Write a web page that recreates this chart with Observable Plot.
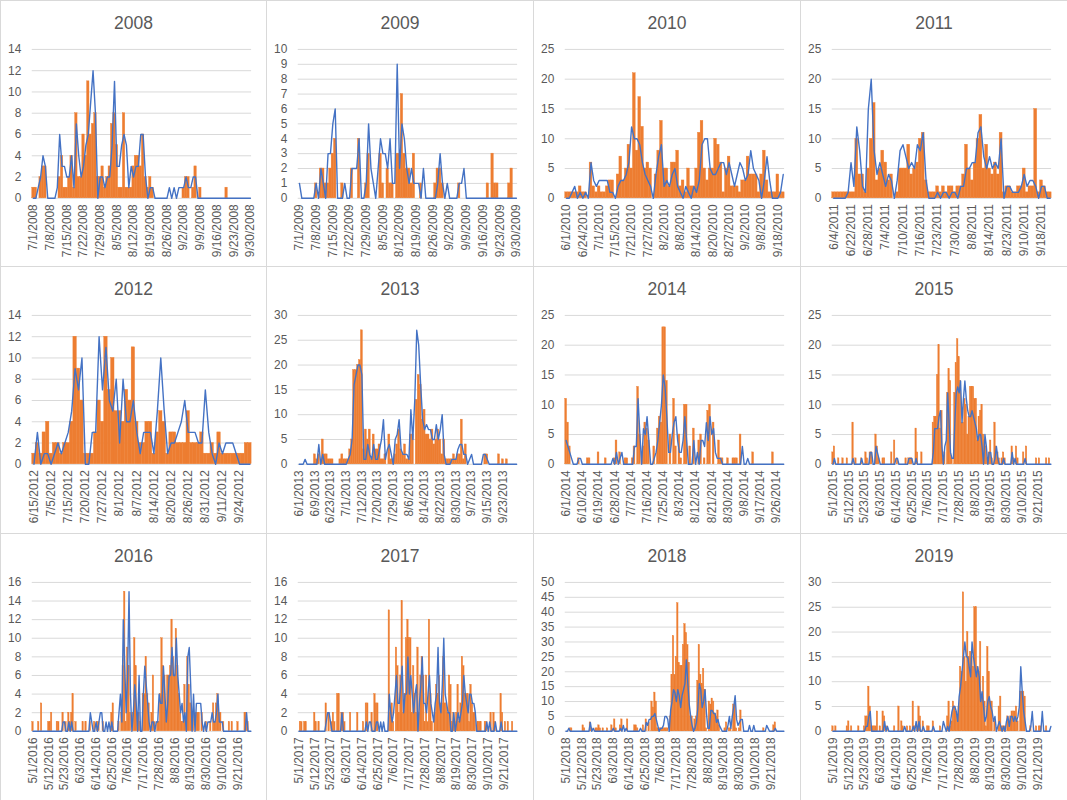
<!DOCTYPE html>
<html><head><meta charset="utf-8">
<script src="https://cdn.jsdelivr.net/npm/d3@7"></script>
<script src="https://cdn.jsdelivr.net/npm/@observablehq/plot@0.6"></script>
<style>
html,body{margin:0;padding:0;background:#fff;}
#wrap{position:relative;width:1067px;height:800px;overflow:hidden;background:#fff;}
.panel{position:absolute;box-sizing:border-box;border:1px solid #d9d9d9;background:#fff;}
.title{position:absolute;left:0;right:0;top:11px;text-align:center;font:17.5px "Liberation Sans",Arial,sans-serif;color:#595959;line-height:22px;}
.panel svg{position:absolute;left:-1px;top:39px;}
</style></head><body><div id="wrap"></div>
<script>
// ---------- tick labels ----------
const labels2008 = ["7/1/2008","7/8/2008","7/15/2008","7/22/2008","7/29/2008","8/5/2008","8/12/2008","8/19/2008","8/26/2008","9/2/2008","9/9/2008","9/16/2008","9/23/2008","9/30/2008"];
const labels2009 = ["7/1/2009","7/8/2009","7/15/2009","7/22/2009","7/29/2009","8/5/2009","8/12/2009","8/19/2009","8/26/2009","9/2/2009","9/9/2009","9/16/2009","9/23/2009","9/30/2009"];
const labels2010 = ["6/1/2010","6/24/2010","7/1/2010","7/15/2010","7/21/2010","7/27/2010","8/2/2010","8/8/2010","8/14/2010","8/20/2010","8/27/2010","9/2/2010","9/8/2010","9/18/2010"];
const labels2011 = ["6/4/2011","6/22/2011","6/28/2011","7/4/2011","7/10/2011","7/16/2011","7/23/2011","7/30/2011","8/8/2011","8/14/2011","8/23/2011","9/10/2011","9/18/2011"];
const labels2012 = ["6/15/2012","7/5/2012","7/15/2012","7/20/2012","7/27/2012","8/1/2012","8/7/2012","8/14/2012","8/20/2012","8/26/2012","8/31/2012","9/11/2012","9/24/2012"];
const labels2013 = ["6/1/2013","6/9/2013","6/23/2013","7/1/2013","7/12/2013","7/20/2013","7/29/2013","8/6/2013","8/14/2013","8/22/2013","8/30/2013","9/7/2013","9/15/2013","9/23/2013"];
const labels2014 = ["6/1/2014","6/10/2014","6/19/2014","6/28/2014","7/7/2014","7/16/2014","7/25/2014","8/3/2014","8/12/2014","8/21/2014","8/30/2014","9/8/2014","9/17/2014","9/26/2014"];
const labels2015 = ["5/1/2015","5/12/2015","5/23/2015","6/3/2015","6/14/2015","6/25/2015","7/6/2015","7/17/2015","7/28/2015","8/8/2015","8/19/2015","8/30/2015","9/10/2015","9/21/2015"];
const labels2016 = ["5/1/2016","5/12/2016","5/23/2016","6/3/2016","6/14/2016","6/25/2016","7/6/2016","7/17/2016","7/28/2016","8/8/2016","8/19/2016","8/30/2016","9/10/2016","9/21/2016"];
const labels2017 = ["5/1/2017","5/12/2017","5/23/2017","6/3/2017","6/14/2017","6/25/2017","7/6/2017","7/17/2017","7/28/2017","8/8/2017","8/19/2017","8/30/2017","9/10/2017","9/21/2017"];
const labels2018 = ["5/1/2018","5/12/2018","5/23/2018","6/3/2018","6/14/2018","6/25/2018","7/6/2018","7/17/2018","7/28/2018","8/8/2018","8/19/2018","8/30/2018","9/10/2018","9/21/2018"];
const labels2019 = ["5/1/2019","5/12/2019","5/23/2019","6/3/2019","6/14/2019","6/25/2019","7/6/2019","7/17/2019","7/28/2019","8/8/2019","8/19/2019","8/30/2019","9/10/2019","9/21/2019"];

// ---------- series values (bars = orange, line = blue) ----------
const bars2008 = [1,1,0,2,3,3,0,0,0,0, 0,2,4,1,1,2,4,1,8,2, 2,6,4,11,6,7,8,2,2,3, 1,2,3,7,8,5,1,1,8,1, 1,1,3,4,4,3,6,2,1,2, 1,0,0,0,0,0,0,0,0,0, 0,0,0,1,2,2,0,1,3,0, 1,0,0,0,0,0,0,0,0,0, 0,1,0,0,0,0,0,0,0,0, 0,0];
const line2008 = [0,0,1,2,4,3,0,0,0,0, 1,6,3,3,2,2,4,1,7,4, 2,3,5,6,9,12,8,0,2,2, 1,2,2,5,11,3,3,5,6,5, 1,3,2,3,3,6,6,2,0,1, 1,0,0,0,0,0,0,1,0,1, 0,1,1,1,2,1,1,2,2,0, 0,0,0,0,0,0,0,0,0,0, 0,0,0,0,0,0,0,0,0,0, 0,0];

const bars2009 = [0,0,0,0,0,0,0,1,0,2, 2,1,1,2,3,4,0,0,1,0, 0,0,2,0,0,4,0,0,1,3, 0,0,0,0,3,1,0,2,1,1, 0,3,3,7,3,2,2,1,3,0, 0,1,0,0,0,0,0,1,2,2, 1,0,0,0,0,0,0,1,0,0, 0,0,0,0,0,0,0,0,0,1, 0,3,1,1,0,0,0,0,1,2, 0,0];
const line2009 = [1,0,0,0,0,0,0,1,0,2, 1,0,3,3,5,6,0,0,0,1, 0,0,2,2,2,4,0,0,1,5, 2,1,0,2,4,3,3,2,4,1, 1,9,2,5,4,2,1,2,1,1, 1,0,2,0,0,0,0,0,1,3, 1,0,1,0,0,0,0,1,1,2, 0,0,0,0,0,0,0,0,0,0, 0,0,0,0,0,0,0,0,0,0, 0,0];

const bars2010 = [1,1,1,1,1,2,1,1,0,6, 2,1,2,1,1,2,3,3,0,4, 7,3,5,9,5,21,8,17,12,5, 6,5,0,4,8,13,5,5,2,6, 6,8,2,3,1,5,2,2,5,11, 13,5,3,5,5,10,9,6,1,5, 7,2,2,2,1,3,3,7,4,4, 4,1,4,8,3,1,1,1,4,1, 1];
const line2010 = [0,0,1,2,0,1,0,1,0,6, 3,2,3,3,3,3,1,1,0,2, 3,3,4,6,12,10,10,9,6,4, 3,2,0,4,7,9,2,3,2,4, 5,2,1,0,2,1,0,2,1,3, 9,10,10,5,4,4,5,6,6,4, 6,4,2,4,6,5,3,4,8,5, 4,3,0,3,7,3,0,0,0,1, 4];

const bars2011 = [1,1,1,1,1,1,1,1,10,4, 4,1,5,10,16,3,5,8,6,3, 4,0,1,5,5,5,9,4,5,6, 10,11,3,1,1,1,2,1,2,1, 2,2,1,2,2,4,9,5,3,6, 10,14,5,9,5,4,6,4,11,1, 2,2,1,1,2,2,5,1,2,2, 15,1,3,2,1,1];
const line2011 = [0,0,0,0,0,1,6,2,12,8, 2,1,15,20,8,4,6,4,2,4, 3,0,3,8,9,7,5,6,5,9, 8,11,3,0,0,0,1,0,1,1, 0,1,1,0,2,2,5,5,6,6, 11,12,7,5,7,5,6,5,10,0, 2,2,1,1,1,2,4,2,3,3, 2,0,2,2,0,0];

const bars2012 = [1,2,1,3,4,1,2,2,1,2, 2,4,12,9,6,1,1,1,3,6, 4,12,7,10,5,5,4,7,6,11, 4,2,2,4,4,1,3,5,4,1, 3,3,2,2,2,5,2,2,2,3, 1,1,2,1,3,1,1,1,1,1, 1,1,2,2];
const line2012 = [0,3,0,1,1,0,1,2,1,2, 3,5,9,7,10,0,0,3,3,12, 7,11,6,5,8,2,8,4,4,6, 3,1,3,3,3,1,5,10,5,1, 2,2,3,4,6,3,3,3,2,2, 7,3,1,0,2,1,2,2,2,1, 0,0,0,0];

const bars2013 = [0,0,0,0,0,0,0,0,2,1, 2,0,5,2,2,1,1,1,0,0, 0,1,2,1,1,1,3,5,19,19, 20,21,27,3,7,5,7,1,6,3, 3,4,1,1,2,0,6,1,1,2, 4,7,3,2,4,1,1,6,6,0, 13,18,16,9,11,6,6,5,7,4, 5,7,5,2,5,1,1,1,1,2, 1,2,2,9,1,4,0,0,0,0, 0,0,0,0,0,2,2,0,0,0, 0,0,2,0,1,0,1,0,0,0, 0,0];
const line2013 = [0,0,0,1,0,0,0,0,0,0, 4,0,2,0,0,0,0,0,0,0, 0,0,0,0,0,1,2,5,16,18, 20,20,18,1,1,4,2,1,4,1, 1,3,5,9,1,3,4,2,0,5, 6,9,3,2,2,2,1,11,5,13, 27,24,16,9,7,8,7,7,5,5, 8,5,7,10,2,0,0,0,1,1, 1,3,4,4,2,2,0,1,2,0, 0,0,0,0,2,2,1,0,0,0, 0,0,0,0,0,0,0,0,0,0, 0,0];

const bars2014 = [11,7,3,0,0,0,0,1,0,0, 0,0,1,1,0,0,0,0,2,0, 0,0,1,0,0,0,0,1,4,0, 2,0,0,1,1,0,0,1,3,0, 13,5,0,3,7,6,4,0,0,3, 0,6,8,7,23,23,14,0,5,0, 11,3,0,5,1,0,10,10,0,3, 0,6,0,0,4,5,0,1,0,9, 10,0,7,0,0,4,1,1,0,0, 1,0,0,1,1,1,0,5,0,0, 0,0,0,0,2,0,0,0,0,0, 0,0,0,0,0,2,0,0,0,0, 0,0];
const line2014 = [4,3,2,1,0,0,0,1,1,0, 0,0,0,0,0,0,0,0,0,0, 0,0,0,0,0,0,1,0,2,0, 1,2,0,0,0,0,0,0,3,3, 11,5,0,6,5,8,4,0,0,1, 2,4,7,10,15,13,8,2,2,5, 7,8,4,2,2,4,8,4,0,0, 0,4,0,2,0,4,4,3,7,4, 8,5,6,2,1,1,1,0,0,0, 0,0,0,0,0,0,0,0,3,0, 0,1,0,0,0,0,0,0,0,0, 0,0,0,0,0,0,0,0,0,0, 0,0];

const bars2015 = [2,3,0,0,1,0,0,1,0,0, 1,0,0,0,7,0,1,0,0,0, 1,0,0,2,1,0,2,2,0,0, 5,3,1,0,0,1,1,0,0,0, 0,2,0,4,0,1,0,0,0,0, 0,1,0,1,1,1,0,0,6,2, 0,0,2,0,0,0,0,0,0,0, 7,8,8,15,20,6,9,1,2,0, 12,16,14,1,0,12,17,21,18,14, 7,7,11,10,5,8,13,13,13,11, 11,4,8,9,10,5,4,3,1,2, 4,1,0,7,3,2,1,0,1,2, 1,0,0,0,0,3,1,0,3,1, 0,0,0,2,0,3,0,0,0,0, 0,0,1,0,1,0,0,0,0,1, 0,1,0];
const line2015 = [0,1,0,0,0,0,0,0,0,0, 0,0,0,0,1,0,0,0,0,0, 1,0,0,0,0,0,2,2,0,0, 3,2,1,0,0,0,0,0,0,0, 0,0,0,0,1,1,0,0,0,0, 0,0,0,1,1,1,0,0,1,0, 0,0,0,0,0,0,0,0,0,0, 2,6,6,6,8,9,3,0,3,4, 12,7,2,1,1,7,12,13,12,14, 7,11,14,11,9,8,8,9,8,7, 6,4,5,5,3,0,5,3,0,2, 2,0,0,1,3,1,0,0,0,1, 0,0,0,0,0,2,0,1,0,0, 0,0,0,0,1,0,0,0,0,0, 0,0,0,0,0,0,0,0,0,0, 0,0,0];

const bars2016 = [1,0,0,0,1,0,3,0,0,0, 0,1,1,2,0,0,0,1,1,0, 0,2,0,1,0,2,1,2,4,0, 1,0,0,0,0,1,0,1,0,0, 1,0,0,1,0,1,1,0,0,1, 0,0,0,0,0,2,3,0,0,0, 1,0,2,7,15,1,9,7,2,0, 2,10,7,2,2,1,0,4,4,8, 4,3,0,2,6,1,0,1,1,4, 10,7,6,2,6,6,7,12,8,6, 11,7,4,2,1,1,5,1,8,5, 3,2,2,0,2,2,2,0,2,0, 0,1,0,0,1,0,3,1,3,4, 2,2,0,1,0,0,0,1,0,1, 0,0,0,1,0,0,0,0,2,2, 1,0,0];
const line2016 = [0,0,0,0,0,0,0,0,0,0, 0,0,0,0,0,0,0,0,0,0, 0,1,1,0,0,1,0,1,0,0, 0,0,0,0,0,0,0,0,0,0, 2,1,0,0,1,0,1,2,2,0, 0,1,0,1,0,1,0,0,0,0, 2,4,1,12,7,2,6,15,4,0, 2,5,3,0,6,0,0,4,7,5, 3,1,0,1,1,0,1,1,4,3, 3,7,4,1,3,6,6,9,6,6, 10,6,4,2,3,1,2,0,8,9, 5,0,4,0,3,3,3,3,1,0, 1,0,1,1,1,2,1,1,2,4, 1,1,1,0,0,0,0,0,0,0, 0,0,0,0,0,0,0,0,0,2, 0,0,0];

const bars2017 = [0,1,1,0,1,1,0,0,0,0, 0,2,1,0,1,0,0,0,0,3, 0,2,0,1,2,1,0,4,4,0, 2,2,1,0,0,0,2,0,0,0, 0,2,0,0,0,1,0,3,3,0, 0,2,0,4,3,3,0,0,0,0, 0,0,0,13,2,3,1,0,9,7, 2,6,14,2,4,10,12,10,10,2, 7,4,2,9,2,6,8,6,1,6, 1,12,4,1,0,2,5,4,6,3, 3,8,3,3,2,6,5,1,2,1, 2,5,1,3,8,7,4,4,4,1, 5,3,2,2,0,1,1,1,0,0, 1,1,0,0,2,0,2,1,0,0, 0,4,2,0,1,0,1,0,0,1, 0,0,0];
const line2017 = [0,0,0,0,0,0,0,0,0,0, 0,0,0,0,0,0,0,0,0,1, 2,2,1,0,0,0,0,0,0,0, 2,0,0,0,0,0,0,0,0,0, 0,0,0,0,0,0,0,1,0,1, 1,0,0,0,1,1,0,1,0,1, 0,0,0,4,2,1,2,4,6,3, 3,5,7,2,4,4,8,4,6,4, 2,4,5,0,3,5,8,3,3,2, 4,6,3,2,1,3,4,9,3,2, 5,10,4,3,2,2,0,0,2,0, 1,2,1,2,3,6,4,3,2,4, 4,3,3,2,0,0,0,0,0,0, 0,1,0,1,0,0,0,1,0,0, 0,1,0,0,0,0,0,0,0,0, 0,0,0];

const bars2018 = [0,0,0,1,1,0,0,0,0,0, 0,0,2,1,0,0,0,3,1,0, 0,1,1,2,1,0,1,0,0,1, 0,0,2,0,4,1,0,0,2,4, 0,0,0,4,0,0,0,0,2,2, 1,0,0,0,2,0,4,0,3,0, 10,8,13,10,1,1,1,1,1,1, 1,1,0,5,19,32,19,25,43,23, 22,22,29,36,33,29,23,5,5,1, 4,5,17,29,19,16,21,14,1,0, 10,9,11,10,6,5,7,2,0,0, 0,1,3,0,1,1,0,9,9,1, 0,1,7,0,0,0,0,0,0,0, 0,0,0,0,0,0,0,0,1,0, 0,0,0,0,0,2,3,0,0,0, 0,0,0];
const line2018 = [0,0,1,0,0,0,0,0,0,0, 0,0,0,0,0,0,0,3,0,1, 0,0,0,0,0,0,0,0,0,0, 0,0,0,1,0,0,0,0,1,0, 2,0,1,0,0,0,0,0,0,0, 0,0,1,0,0,0,3,2,4,4, 5,5,6,4,2,0,1,1,2,5, 5,4,0,7,10,14,13,10,14,12, 8,12,14,16,24,16,9,5,2,0, 1,3,8,16,14,8,10,14,6,1, 1,7,7,6,6,3,4,2,1,0, 0,0,0,2,5,1,5,8,12,4, 2,3,4,4,0,0,0,0,2,0, 0,2,0,0,0,0,0,0,0,0, 2,1,0,0,0,0,1,0,0,0, 0,0,0];

const bars2019 = [1,0,1,0,0,0,0,0,0,0, 1,2,0,1,0,0,0,0,1,0, 0,0,1,3,3,9,5,1,1,1, 1,4,0,1,0,4,3,0,1,0, 0,0,0,1,0,0,5,0,2,1, 0,0,1,0,1,0,6,1,0,1, 5,3,0,2,0,0,1,1,0,0, 2,0,0,0,0,1,0,0,0,0, 3,6,1,2,6,5,4,3,5,13, 12,28,15,10,20,15,16,15,13,25, 25,13,12,18,7,11,6,1,17,12, 6,6,0,2,0,0,5,7,1,1, 1,0,3,2,3,4,4,4,5,2, 0,8,8,8,7,0,0,0,1,0, 0,0,1,0,1,1,0,0,0,1, 0,0,0];
const line2019 = [0,0,0,0,0,0,0,0,0,0, 0,0,0,0,0,0,0,0,0,0, 0,0,0,1,1,3,4,0,0,0, 0,0,0,0,0,0,2,0,1,0, 0,0,0,0,0,0,0,0,0,0, 1,0,0,0,0,0,1,0,2,0, 2,0,0,1,0,0,0,0,0,0, 1,0,0,0,0,0,0,2,1,0, 1,0,2,4,5,5,4,2,7,9, 12,15,18,15,15,13,11,18,15,13, 11,13,11,6,8,5,2,3,6,7, 5,4,2,3,0,1,2,1,0,1, 0,2,3,1,3,3,2,3,2,3, 5,13,8,4,2,0,0,0,1,4, 0,0,0,0,0,0,4,0,0,0, 0,0,1];

// ---------- panel table ----------
const panels = [
  {year: "2008", labels: labels2008, bars: bars2008, line: line2008, step: 7, yMax: 14, yStep: 2},
  {year: "2009", labels: labels2009, bars: bars2009, line: line2009, step: 7, yMax: 10, yStep: 1},
  {year: "2010", labels: labels2010, bars: bars2010, line: line2010, step: 6, yMax: 25, yStep: 5},
  {year: "2011", labels: labels2011, bars: bars2011, line: line2011, step: 6, yMax: 25, yStep: 5},
  {year: "2012", labels: labels2012, bars: bars2012, line: line2012, step: 5, yMax: 14, yStep: 2},
  {year: "2013", labels: labels2013, bars: bars2013, line: line2013, step: 8, yMax: 30, yStep: 5},
  {year: "2014", labels: labels2014, bars: bars2014, line: line2014, step: 9, yMax: 25, yStep: 5},
  {year: "2015", labels: labels2015, bars: bars2015, line: line2015, step: 11, yMax: 25, yStep: 5},
  {year: "2016", labels: labels2016, bars: bars2016, line: line2016, step: 11, yMax: 16, yStep: 2},
  {year: "2017", labels: labels2017, bars: bars2017, line: line2017, step: 11, yMax: 16, yStep: 2},
  {year: "2018", labels: labels2018, bars: bars2018, line: line2018, step: 11, yMax: 50, yStep: 5},
  {year: "2019", labels: labels2019, bars: bars2019, line: line2019, step: 11, yMax: 30, yStep: 5}
];

const ORANGE = "#ED7D31", BLUE = "#4472C4", GRID = "#D9D9D9", TEXT = "#595959";
const wrap = document.getElementById("wrap");

panels.forEach((p, k) => {
  const c = k % 4, r = Math.floor(k / 4);
  const left = Math.floor(c * 1067 / 4), right = Math.floor((c + 1) * 1067 / 4);
  const top = Math.floor(r * 800 / 3), bottom = Math.floor((r + 1) * 800 / 3);
  const w = right - left + 1, h = bottom - top + 1;

  const div = document.createElement("div");
  div.className = "panel";
  Object.assign(div.style, {left: left + "px", top: top + "px", width: w + "px", height: h + "px"});
  const t = document.createElement("div");
  t.className = "title";
  t.textContent = p.year;
  div.appendChild(t);

  const n = p.bars.length;
  const data = p.bars.map((b, i) => ({i, bar: b, line: p.line[i]}));
  const yTicks = d3.range(0, p.yMax + p.yStep / 2, p.yStep);
  const xTicks = p.labels.map((_, j) => j * p.step);
  const svgH = h - 40;

  const chart = Plot.plot({
    width: w,
    height: svgH,
    marginTop: 9,
    marginBottom: svgH - 159,
    marginLeft: 32,
    marginRight: w - 253,
    style: {fontFamily: '"Liberation Sans", Arial, sans-serif', fontSize: "12px", color: TEXT, background: "transparent", overflow: "visible"},
    x: {type: "band", domain: d3.range(n), padding: 0, round: false, ticks: xTicks,
        tickFormat: i => p.labels[i / p.step], tickRotate: -90, tickSize: 0, tickPadding: 6, label: null},
    y: {domain: [0, p.yMax], ticks: yTicks, tickSize: 0, tickPadding: 11, label: null},
    marks: [
      Plot.ruleY(yTicks, {stroke: GRID, strokeWidth: 1}),
      Plot.barY(data.filter(d => d.bar > 0), {x: "i", y: "bar", fill: ORANGE, stroke: ORANGE, strokeWidth: 0.4}),
      Plot.line(data, {x: "i", y: "line", stroke: BLUE, strokeWidth: 1.4})
    ]
  });
  div.appendChild(chart);
  wrap.appendChild(div);
});
</script></body></html>
